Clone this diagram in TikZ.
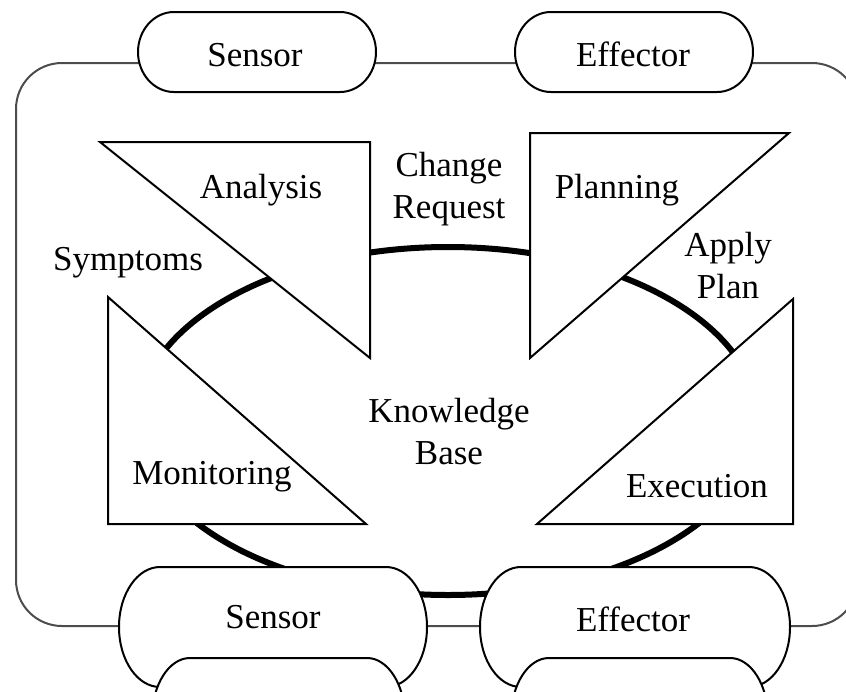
\documentclass[tikz,border=0pt]{standalone}
\usepackage{fontspec}
\setmainfont{Liberation Serif}
\begin{document}
\begin{tikzpicture}[x=1pt,y=-1pt,
  lbl/.style={font=\fontsize{35}{42}\selectfont, inner sep=0pt, align=center, anchor=base},
  tri/.style={draw=black, line width=2pt, fill=white, line join=miter},
  pill/.style={draw=black, line width=2pt, fill=white},
  frameline/.style={draw=black!70, line width=2pt, rounded corners=46pt},
  kb/.style={draw=black, line width=6pt}]
\useasboundingbox (0,0) rectangle (846,691);
\clip (0,0) rectangle (846,691);
% outer frame
\draw[frameline] (16,63) rectangle (858,626);
% knowledge base ellipse
\draw[kb] (448,421) ellipse [x radius=310pt, y radius=174pt];
% triangles
\filldraw[tri] (100,142) -- (370,142) -- (370,358) -- cycle;
\filldraw[tri] (108,297) -- (108,524) -- (366,524) -- cycle;
\filldraw[tri] (530,133) -- (789,133) -- (530,358) -- cycle;
\filldraw[tri] (793,299) -- (793,524) -- (537,524) -- cycle;
% top pills
\draw[pill] (174,12) -- (340,12) arc[start angle=90,end angle=-90,x radius=36pt,y radius=40pt]
  -- (174,92) arc[start angle=-90,end angle=-270,x radius=36pt,y radius=40pt] -- cycle;
\draw[pill] (551,12) -- (717,12) arc[start angle=90,end angle=-90,x radius=36pt,y radius=40pt]
  -- (551,92) arc[start angle=-90,end angle=-270,x radius=36pt,y radius=40pt] -- cycle;
% bottom pills (outer)
\draw[pill] (160,567) -- (386,567) arc[start angle=90,end angle=-90,x radius=41pt,y radius=60pt]
  -- (160,687) arc[start angle=-90,end angle=-270,x radius=41pt,y radius=60pt] -- cycle;
\draw[pill] (521,567) -- (749,567) arc[start angle=90,end angle=-90,x radius=41pt,y radius=60pt]
  -- (521,687) arc[start angle=-90,end angle=-270,x radius=41pt,y radius=60pt] -- cycle;
% bottom pills (inner)
\draw[pill] (190,658) -- (367,658) arc[start angle=90,end angle=-90,x radius=38pt,y radius=60pt]
  -- (190,778) arc[start angle=-90,end angle=-270,x radius=38pt,y radius=60pt] -- cycle;
\draw[pill] (549,658) -- (730,658) arc[start angle=90,end angle=-90,x radius=38pt,y radius=60pt]
  -- (549,778) arc[start angle=-90,end angle=-270,x radius=38pt,y radius=60pt] -- cycle;
% labels
\node[lbl] (sensT) at (255,66) {Sensor};
\node[lbl] (effT) at (633,66) {Effector};
\node[lbl] (ana) at (261,198) {Analysis};
\node[lbl] (chg) at (449,218) {Change\\Request};
\node[lbl] (plan) at (617,198) {Planning};
\node[lbl] (sym) at (128,270) {Symptoms};
\node[lbl] (apply) at (728,298) {Apply\\Plan};
\node[lbl] (know) at (449,464) {Knowledge\\Base};
\node[lbl] (mon) at (212,484) {Monitoring};
\node[lbl] (exe) at (697,497) {Execution};
\node[lbl] (sensB) at (273,628) {Sensor};
\node[lbl] (effB) at (633,631) {Effector};
\end{tikzpicture}
\end{document}
